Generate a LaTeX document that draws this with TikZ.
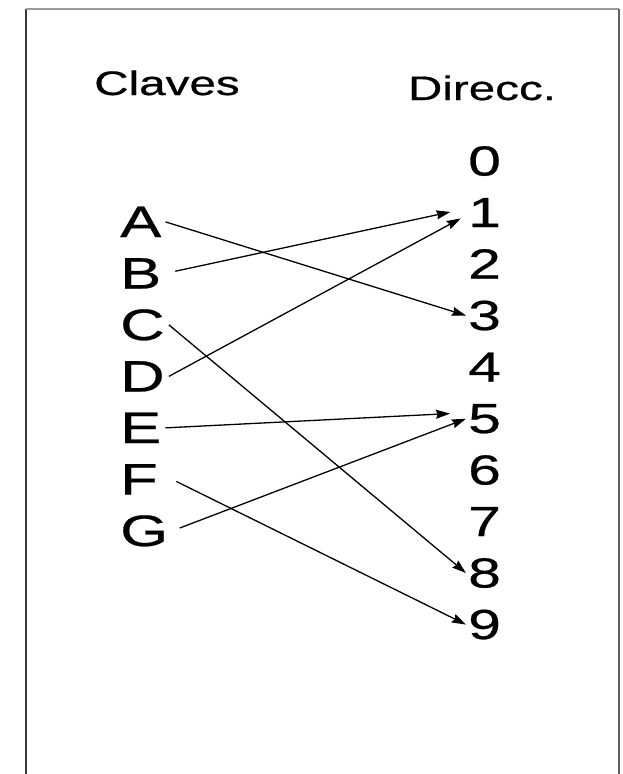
\documentclass[tikz,border=0pt]{standalone}
\usepackage{fontspec}
\setmainfont[FakeStretch=1.4,FakeBold=0.6]{Liberation Sans}
\usetikzlibrary{arrows.meta}
\definecolor{HashFrame}{HTML}{3A3A3A}
\definecolor{HashFrameLight}{HTML}{9A9A9A}

\begin{document}
\begin{tikzpicture}[x=1pt,y=-1pt,
    keytext/.style={anchor=base west,inner sep=4pt,font=\fontsize{44}{44}\selectfont},
    addrtext/.style={anchor=base west,inner sep=2pt,font=\fontsize{42}{42}\selectfont},
    headtext/.style={anchor=base,inner sep=0pt,font=\fontsize{34}{34}\selectfont},
    hasharrow/.style={-{Stealth[length=14pt,width=9pt,inset=1.5pt]},line width=1.3pt}]
  \useasboundingbox (0,0) rectangle (623,774);

  % open frame round the table
  \draw[HashFrame,line width=2pt] (26,774) -- (26,9);
  \draw[HashFrameLight,line width=1.2pt] (26,9) -- (619,9);
  \draw[HashFrame!80,line width=2.5pt] (619,9) -- (619,774);

  % headings
  \node[headtext] (claves) at (167,95) {Claves};
  \node[headtext] (direcc) at (482,100) {Direcc.};

  % keys
  \node[keytext] (kA) at (116,237) {A};
  \node[keytext] (kB) at (116,288.5) {B};
  \node[keytext] (kC) at (116,340) {C};
  \node[keytext] (kD) at (116,391.5) {D};
  \node[keytext] (kE) at (116,443) {E};
  \node[keytext] (kF) at (116,494.5) {F};
  \node[keytext] (kG) at (116,546) {G};

  % addresses
  \node[addrtext] (d0) at (466,175.5) {0};
  \node[addrtext] (d1) at (466,227) {1};
  \node[addrtext] (d2) at (466,278.5) {2};
  \node[addrtext] (d3) at (466,330) {3};
  \node[addrtext] (d4) at (466,381.5) {4};
  \node[addrtext] (d5) at (466,433) {5};
  \node[addrtext] (d6) at (466,484.5) {6};
  \node[addrtext] (d7) at (466,536) {7};
  \node[addrtext] (d8) at (466,587.5) {8};
  \node[addrtext] (d9) at (466,639) {9};

  % hash function
  \draw[hasharrow] (kA.east) -- (d3.west);
  \draw[hasharrow,shorten <=10pt,shorten >=16pt] (kB.east) -- ([yshift=4pt]d1.west);
  \draw[hasharrow] (kC.east) -- (d8.west);
  \draw[hasharrow,shorten >=6pt] (kD.east) -- ([yshift=-3pt]d1.west);
  \draw[hasharrow,shorten >=16pt] (kE.east) -- ([yshift=6pt]d5.west);
  \draw[hasharrow,shorten <=16pt] ([yshift=5pt]kF.east) -- (d9.west);
  \draw[hasharrow,shorten <=8pt] (kG.east) -- (d5.west);
\end{tikzpicture}
\end{document}
